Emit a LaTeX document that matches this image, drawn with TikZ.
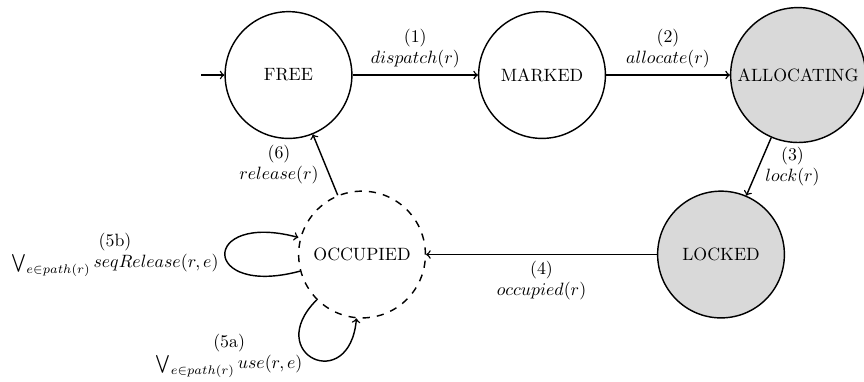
\documentclass[tikz,border=0pt]{standalone}
\usepackage{amsmath, amssymb}
\usetikzlibrary{automata}

\begin{document}
\begin{tikzpicture}[->, thick, auto, initial text={}, every state/.style={minimum size=2.5cm}, busy/.style={fill=gray!30}, waiting/.style={dash pattern={on 4pt off 4pt}}]
	% Bounding box:
	\useasboundingbox (-5.69, -6.04) rectangle (11.35, 1.48);
	% States:
	\node[state, initial] (free) at (0, 0) {FREE};
	\node[state] (marked) at (5, 0) {MARKED};
	\node[state, busy] (allocating) at (10.05, 0) {ALLOCATING};
	\node[state, busy] (locked) at (8.53, -3.54) {LOCKED};
	\node[state, waiting] (occupied) at (1.45, -3.54) {OCCUPIED};
	% Transitions:
	\path (free) edge node[align=center] {(1)\\ $dispatch(r)$} (marked)
		(marked) edge node[align=center] {(2)\\ $allocate(r)$} (allocating)
		(allocating) edge node[right, align=center] {(3)\\ $lock(r)$} (locked)
		(locked) edge node[align=center] {(4)\\ $occupied(r)$} (occupied)
		(occupied) edge node[left, align=center] {(6)\\ $release(r)$} (free)
		(occupied) edge[loop left] node[align=center] {(5b)\\ $\bigvee_{e \in path(r)} seqRelease(r, e)$} (occupied)
		(occupied) edge[out=225, in=265, looseness=4.5] node[left, pos=0.45, align=center] {(5a)\\ $\bigvee_{e \in path(r)} use(r, e)$} (occupied);
\end{tikzpicture}
\end{document}
